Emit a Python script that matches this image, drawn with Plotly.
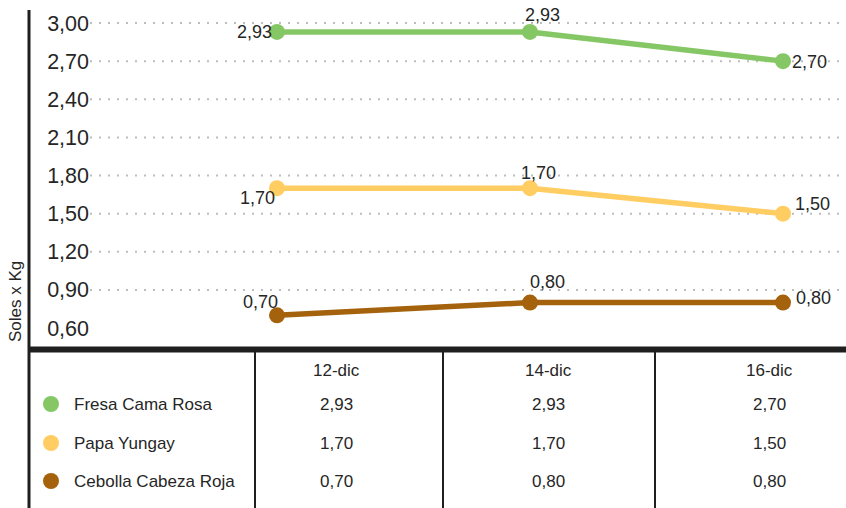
import plotly.graph_objects as go

# ---------------- data ----------------
categories = ["12-dic", "14-dic", "16-dic"]
series_names = ["Fresa Cama Rosa", "Papa Yungay", "Cebolla Cabeza Roja"]
fresa = [2.93, 2.93, 2.70]
papa = [1.70, 1.70, 1.50]
cebolla = [0.70, 0.80, 0.80]
y_ticks = [0.60, 0.90, 1.20, 1.50, 1.80, 2.10, 2.40, 2.70, 3.00]
y_title = "Soles x Kg"

# ---------------- layout geometry / styles ----------------
W, H = 846, 508
L, R, T, B = 90, 0, 10, 161
PW = W - L - R
PH = H - T - B
FONT = "Liberation Sans, Arial, sans-serif"
TXT = "#262626"
LINE = "#1f1f1f"
colors = ["#86C765", "#FFCD62", "#A5620C"]
values = [fresa, papa, cebolla]

# label offsets (pixels, relative to each point) per series
label_offsets = [
    [(-23, 0), (12, 17), (26, -1)],
    [(-20, -10), (8, 15), (29, 10)],
    [(-17, 13), (17, 21), (30, 5)],
]
col_centers = [336, 548, 769]
header_y = 370
row_ys = [404, 443, 481]
dividers = [255, 443, 655]


def px(xp):
    return (xp - L) / PW


def py(yp):
    return (H - B - yp) / PH


def fmt(v):
    return f"{v:.2f}".replace(".", ",")


fig = go.Figure()
for name, vals, col in zip(series_names, values, colors):
    fig.add_trace(go.Scatter(
        x=categories, y=vals, mode="lines+markers", name=name,
        line=dict(color=col, width=5.5), marker=dict(color=col, size=16),
        showlegend=False, hoverinfo="skip"))

annotations = []
shapes = []

# data labels
for vals, offs in zip(values, label_offsets):
    for c, v, (dx, dy) in zip(categories, vals, offs):
        annotations.append(dict(
            x=c, y=v, xref="x", yref="y", text=fmt(v), showarrow=False,
            xshift=dx, yshift=dy, xanchor="center", yanchor="middle",
            font=dict(family=FONT, size=18, color=TXT)))

# dotted gridlines (the lowest tick has no gridline in the original)
for v in y_ticks[1:]:
    shapes.append(dict(type="line", xref="paper", yref="y", x0=0, x1=1, y0=v, y1=v,
                       line=dict(color="#BDBDBD", width=2, dash="2px,7px"), layer="below"))

# frame lines
shapes.append(dict(type="line", xref="paper", yref="paper", x0=px(28), x1=px(846),
                   y0=py(349.5), y1=py(349.5), line=dict(color=LINE, width=6)))
shapes.append(dict(type="line", xref="paper", yref="paper", x0=px(29), x1=px(29),
                   y0=py(10), y1=py(508), line=dict(color=LINE, width=3)))
for d in dividers:
    shapes.append(dict(type="line", xref="paper", yref="paper", x0=px(d), x1=px(d),
                       y0=py(352), y1=py(508), line=dict(color=LINE, width=2)))

# y title
annotations.append(dict(x=px(15), y=py(302), xref="paper", yref="paper", text=y_title,
                        textangle=-90, showarrow=False, xanchor="center", yanchor="middle",
                        font=dict(family=FONT, size=17, color=TXT)))

# table header
for c, cx in zip(categories, col_centers):
    annotations.append(dict(x=px(cx), y=py(header_y), xref="paper", yref="paper", text=c,
                            showarrow=False, xanchor="center", yanchor="middle",
                            font=dict(family=FONT, size=17, color=TXT)))

# table rows
for name, vals, col, ry in zip(series_names, values, colors, row_ys):
    shapes.append(dict(type="circle", xref="paper", yref="paper",
                       x0=px(43), x1=px(59), y0=py(ry + 8), y1=py(ry - 8),
                       fillcolor=col, line=dict(width=0)))
    annotations.append(dict(x=px(72), y=py(ry), xref="paper", yref="paper", text=name,
                            showarrow=False, xanchor="left", yanchor="middle",
                            font=dict(family=FONT, size=17, color=TXT)))
    for v, cx in zip(vals, col_centers):
        annotations.append(dict(x=px(cx), y=py(ry), xref="paper", yref="paper", text=fmt(v),
                                showarrow=False, xanchor="center", yanchor="middle",
                                font=dict(family=FONT, size=17, color=TXT)))

x_lo = -(277 - L) / 253
x_hi = (W - 277) / 253

fig.update_layout(
    width=W, height=H,
    margin=dict(l=L, r=R, t=T, b=B, pad=0),
    paper_bgcolor="white", plot_bgcolor="white",
    showlegend=False,
    xaxis=dict(visible=False, range=[x_lo, x_hi]),
    yaxis=dict(range=[0.4505, 3.1023], tickvals=y_ticks, ticktext=[fmt(v) for v in y_ticks],
               showgrid=False, zeroline=False, showline=False, ticks="",
               tickfont=dict(family=FONT, size=21.5, color=TXT)),
    annotations=annotations, shapes=shapes,
)

fig.write_html("out.html", post_script="document.body.style.margin='0';",
               config={"displayModeBar": False})
